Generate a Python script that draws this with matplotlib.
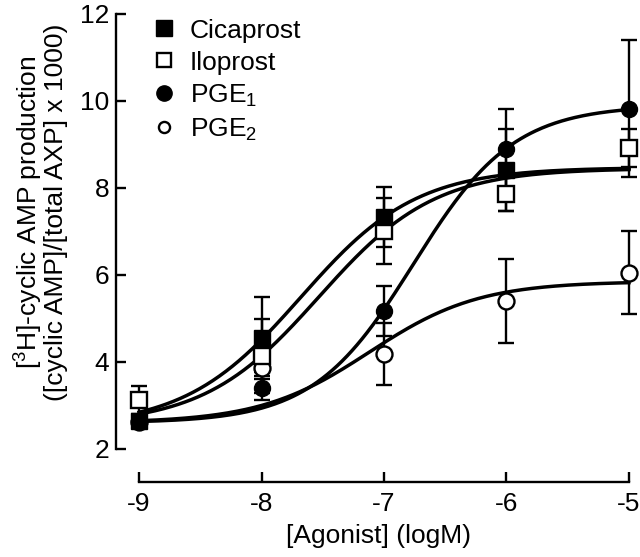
import numpy as np
import matplotlib
matplotlib.use('Agg')
import matplotlib.pyplot as plt
from matplotlib.lines import Line2D

plt.rcParams['font.family'] = ['Liberation Sans', 'DejaVu Sans']
plt.rcParams['mathtext.fontset'] = 'custom'
plt.rcParams['mathtext.rm'] = 'Liberation Sans'
plt.rcParams['mathtext.default'] = 'regular'

# log agonist concentration
log_conc = [-9, -8, -7, -6, -5]

# mean +/- s.e.mean
cica_x = [-9, -8, -7, -6]
cica_y = [2.64, 4.55, 7.33, 8.41]
cica_err = [0.08, 0.94, 0.69, 0.95]

ilo_y = [3.13, 4.14, 7.01, 7.86, 8.92]
ilo_err = [0.32, 0.85, 0.75, 0.39, 0.44]

pge1_y = [2.65, 3.40, 5.17, 8.90, 9.82]
pge1_err = [0.08, 0.28, 0.57, 0.92, 1.58]

pge2_y = [2.62, 3.85, 4.18, 5.40, 6.05]
pge2_err = [0.08, 0.08, 0.71, 0.97, 0.95]

# fitted logistic curves: bottom, top, logEC50, hill
cica_fit = [2.50, 8.47, -7.68, 0.92]
ilo_fit = [2.55, 8.45, -7.53, 0.92]
pge1_fit = [2.60, 9.90, -6.76, 1.06]
pge2_fit = [2.60, 5.85, -7.12, 0.97]


def logistic(x, p):
    bottom, top, ec50, hill = p
    return bottom + (top - bottom) / (1 + 10 ** ((ec50 - x) * hill))


fig = plt.figure(figsize=(6.4, 5.57), dpi=100)
ax = fig.add_axes([116 / 640, 1 - 482 / 557, 1 - 116 / 640, 482 / 557])

xs = np.linspace(-9, -5, 300)
for p in [cica_fit, ilo_fit, pge1_fit, pge2_fit]:
    ax.plot(xs, logistic(xs, p), color='black', lw=2.5, zorder=2)

eb = dict(fmt='none', ecolor='black', elinewidth=1.7, capsize=6, capthick=1.7, zorder=3)
ax.errorbar(log_conc, pge2_y, yerr=pge2_err, **eb)
ax.errorbar(log_conc, pge1_y, yerr=pge1_err, **eb)
ax.errorbar(log_conc, ilo_y, yerr=ilo_err, **eb)
ax.errorbar(cica_x, cica_y, yerr=cica_err, **eb)

ax.plot(log_conc, pge2_y, 'o', ms=11.5, mfc='white', mec='black', mew=1.7, ls='none', zorder=4)
ax.plot(log_conc, pge1_y, 'o', ms=11.5, mfc='black', mec='black', ls='none', zorder=5)
ax.plot(log_conc, ilo_y, 's', ms=11.5, mfc='white', mec='black', mew=1.7, ls='none', zorder=6)
ax.plot(cica_x, cica_y, 's', ms=12, mfc='black', mec='black', ls='none', zorder=7)

ax.set_xlim(-9.188, -4.91)
ax.set_ylim(1.24, 12.32)
ax.set_xticks(log_conc)
ax.set_xticklabels(['-9', '-8', '-7', '-6', '-5'])
ax.set_yticks([2, 4, 6, 8, 10, 12])

for s in ['top', 'right']:
    ax.spines[s].set_visible(False)
ax.spines['left'].set_bounds(2, 12)
ax.spines['bottom'].set_bounds(-9, -5)
ax.spines['left'].set_linewidth(1.7)
ax.spines['bottom'].set_linewidth(1.7)
ax.tick_params(direction='in', length=7, width=1.7, labelsize=19, pad=5)
ax.tick_params(axis='x', pad=7)

ax.set_xlabel('[Agonist] (logM)', fontsize=19, labelpad=6)
fig.text(40 / 640, 1 - 212 / 557,
         '[$^3$H]-cyclic AMP production\n([cyclic AMP]/[total AXP] x 1000)',
         rotation=90, ha='center', va='center', multialignment='center',
         fontsize=19, linespacing=0.95)

handles = [
    Line2D([], [], marker='s', ls='none', ms=11, mfc='black', mec='black'),
    Line2D([], [], marker='s', ls='none', ms=10, mfc='white', mec='black', mew=1.7),
    Line2D([], [], marker='o', ls='none', ms=11, mfc='black', mec='black'),
    Line2D([], [], marker='o', ls='none', ms=8, mfc='white', mec='black', mew=1.7),
]
labels = ['Cicaprost', 'Iloprost', 'PGE$_1$', 'PGE$_2$']
ax.legend(handles, labels, loc='upper left', bbox_to_anchor=(0.028, 1.005),
          frameon=False, fontsize=19, handlelength=0.9, handletextpad=0.55,
          labelspacing=0.3, borderaxespad=0.4)

fig.savefig('out.png', dpi=100)
